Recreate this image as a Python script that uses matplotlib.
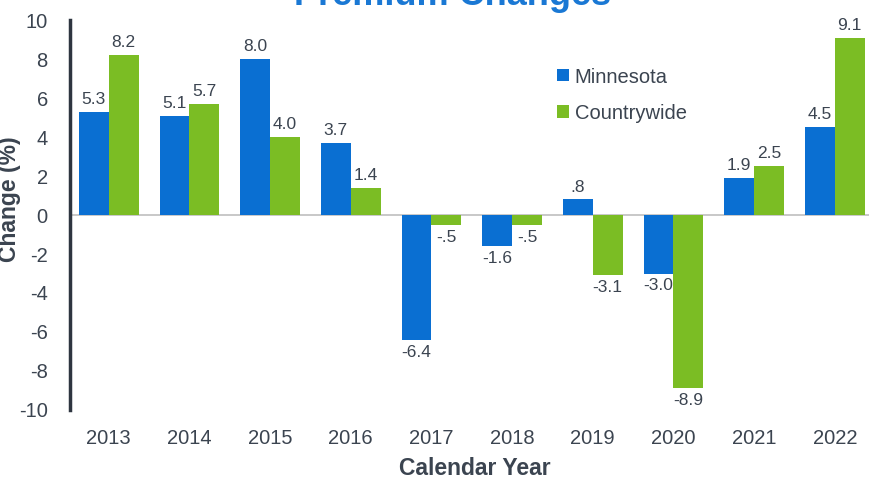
import numpy as np
import matplotlib.pyplot as plt

plt.rcParams['font.family'] = ['Liberation Sans', 'DejaVu Sans']
plt.rcParams['axes.unicode_minus'] = False

# Data
years = ['2013', '2014', '2015', '2016', '2017', '2018', '2019', '2020', '2021', '2022']
minnesota = [5.3, 5.1, 8.0, 3.7, -6.4, -1.6, 0.8, -3.0, 1.9, 4.5]
countrywide = [8.2, 5.7, 4.0, 1.4, -0.5, -0.5, -3.1, -8.9, 2.5, 9.1]

blue = '#0A6FD2'
green = '#7BBD24'
txt = '#3B4450'

def fmt(v):
    s = f'{v:.1f}'
    return s.replace('0.', '.') if abs(v) < 1 else s

fig = plt.figure(figsize=(8.7, 4.8), dpi=100)
ax = fig.add_axes([0.0805, 0.146, 0.93, 0.812])

x = np.arange(len(years))
w = 0.37
b1 = ax.bar(x - w/2, minnesota, w, color=blue, label='Minnesota')
b2 = ax.bar(x + w/2, countrywide, w, color=green, label='Countrywide')

for bars, vals in [(b1, minnesota), (b2, countrywide)]:
    for r, v in zip(bars, vals):
        cx = r.get_x() + r.get_width()/2
        if v >= 0:
            ax.text(cx, v + 0.25, fmt(v), ha='center', va='bottom', fontsize=12.5, color=txt)
        else:
            ax.text(cx, v - 0.25, fmt(v), ha='center', va='top', fontsize=12.5, color=txt)

ax.axhline(0, color='#BFBFBF', lw=1.2, zorder=0)
ax.set_ylim(-10, 10)
ax.set_yticks(range(-10, 11, 2))
ax.set_xlim(-0.48, 9.55)
ax.set_xticks(x)
ax.set_xticklabels(years)
ax.tick_params(axis='both', length=0, labelsize=14.5, colors=txt)
ax.tick_params(axis='x', pad=14)
ax.tick_params(axis='y', pad=16)
for s in ['top', 'right', 'bottom']:
    ax.spines[s].set_visible(False)
ax.spines['left'].set_color('#2E3540')
ax.spines['left'].set_linewidth(2.5)

ax.set_xlabel('Calendar Year', fontsize=16.5, fontweight='bold', color=txt)
ax.xaxis.set_label_coords(0.5, -0.121)
ax.set_ylabel('Change (%)', fontsize=16.5, fontweight='bold', color=txt)
ax.yaxis.set_label_coords(-0.06, 0.54)

ax.legend(loc='upper left', bbox_to_anchor=(0.58, 0.925), frameon=False,
          fontsize=14.5, handlelength=0.55, handleheight=0.55, handletextpad=0.3,
          labelspacing=0.85, labelcolor=txt)

fig.text(0.52, 0.99, 'Premium Changes', ha='center', va='baseline',
         fontsize=26, fontweight='bold', color='#1A78D4')

fig.savefig('out.png', dpi=100)
